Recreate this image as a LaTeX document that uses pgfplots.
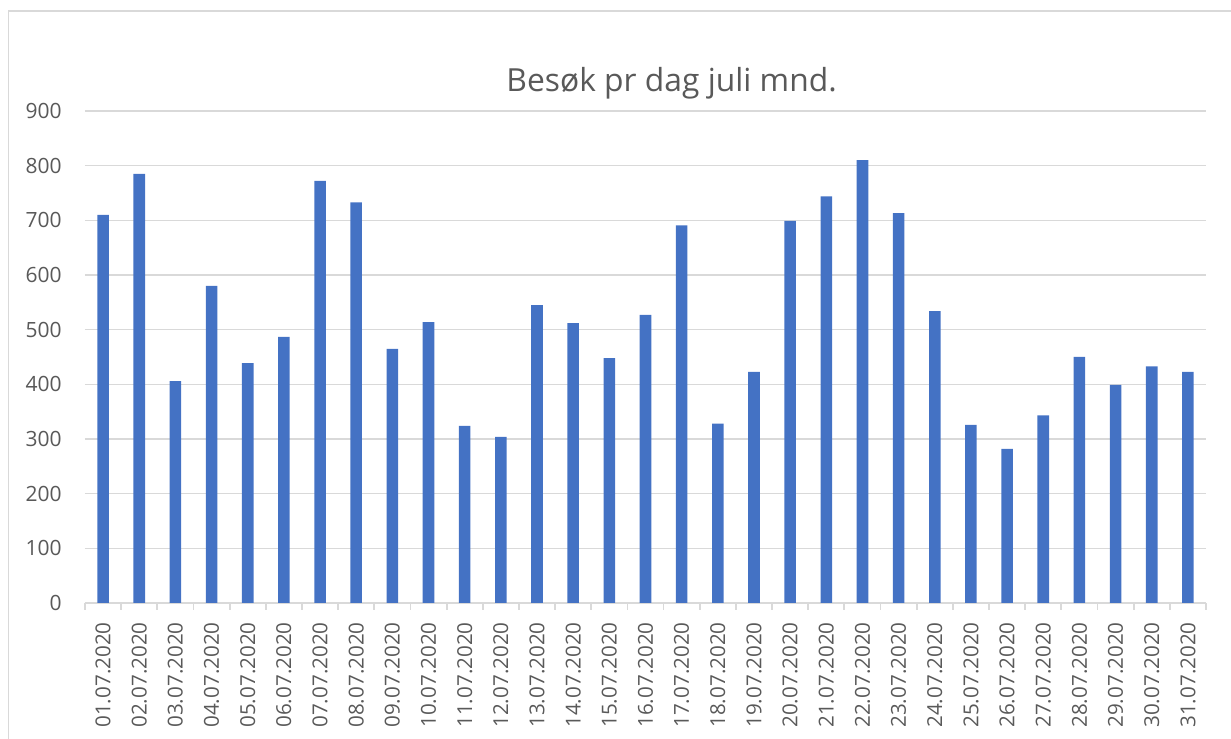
\documentclass[border=0pt]{standalone}
\usepackage{pgfplots}
\pgfplotsset{compat=1.18}
\usepackage{fontspec}
\setmainfont{Open Sans}
\definecolor{barblue}{HTML}{4472C4}
\definecolor{gridgray}{HTML}{D9D9D9}
\definecolor{txtgray}{HTML}{595959}
\begin{document}
\begin{tikzpicture}
\path[use as bounding box] (-42.5pt,-67.7pt) rectangle (573pt,301.5pt);
\draw[gridgray, line width=0.9pt] (-38.25pt,-70pt) -- (-38.25pt,295.8pt) -- (575pt,295.8pt);
\begin{axis}[
  at={(0,0)}, anchor=south west,
  scale only axis, width=560.5pt, height=246pt,
  xmin=0.5, xmax=31.5, ymin=0, ymax=900,
  ytick={0,100,...,900},
  xtick={1,...,31},
  xticklabels={01.07.2020,02.07.2020,03.07.2020,04.07.2020,05.07.2020,06.07.2020,07.07.2020,08.07.2020,09.07.2020,10.07.2020,11.07.2020,12.07.2020,13.07.2020,14.07.2020,15.07.2020,16.07.2020,17.07.2020,18.07.2020,19.07.2020,20.07.2020,21.07.2020,22.07.2020,23.07.2020,24.07.2020,25.07.2020,26.07.2020,27.07.2020,28.07.2020,29.07.2020,30.07.2020,31.07.2020},
  minor xtick={0.5,1.5,...,31.5},
  axis x line*=bottom, axis y line*=left,
  y axis line style={draw=none},
  x axis line style={gridgray, line width=0.9pt, -},
  tick align=outside,
  major tick length=0pt,
  minor tick length=3.5pt,
  minor x tick style={gridgray, line width=0.9pt},
  ytick style={draw=none},
  ymajorgrids,
  grid style={gridgray, line width=0.8pt},
  /pgf/number format/assume math mode=true,
  yticklabel style={font=\fontsize{10.5}{12}\selectfont, text=txtgray, inner sep=0pt},
  xticklabel style={font=\fontsize{10.3}{12}\selectfont, text=txtgray, inner sep=0pt, rotate=90, anchor=east},
  yticklabel shift=11.5pt,
  xticklabel shift=9.5pt,
  clip=false,
]
\addplot[ybar, bar width=0.32, fill=barblue, draw=none] coordinates {
(1,710) (2,785) (3,406) (4,580) (5,439) (6,487) (7,772) (8,733) (9,465) (10,514)
(11,324) (12,304) (13,545) (14,512) (15,448) (16,527) (17,691) (18,328) (19,423) (20,699)
(21,744) (22,810) (23,713) (24,534) (25,326) (26,282) (27,343) (28,450) (29,399) (30,433)
(31,423)
};
\end{axis}
\node[anchor=base, text=txtgray, font=\fontsize{15.9}{19}\selectfont] at (293.3pt,255.5pt) {Besøk pr dag juli mnd.};
\end{tikzpicture}
\end{document}
